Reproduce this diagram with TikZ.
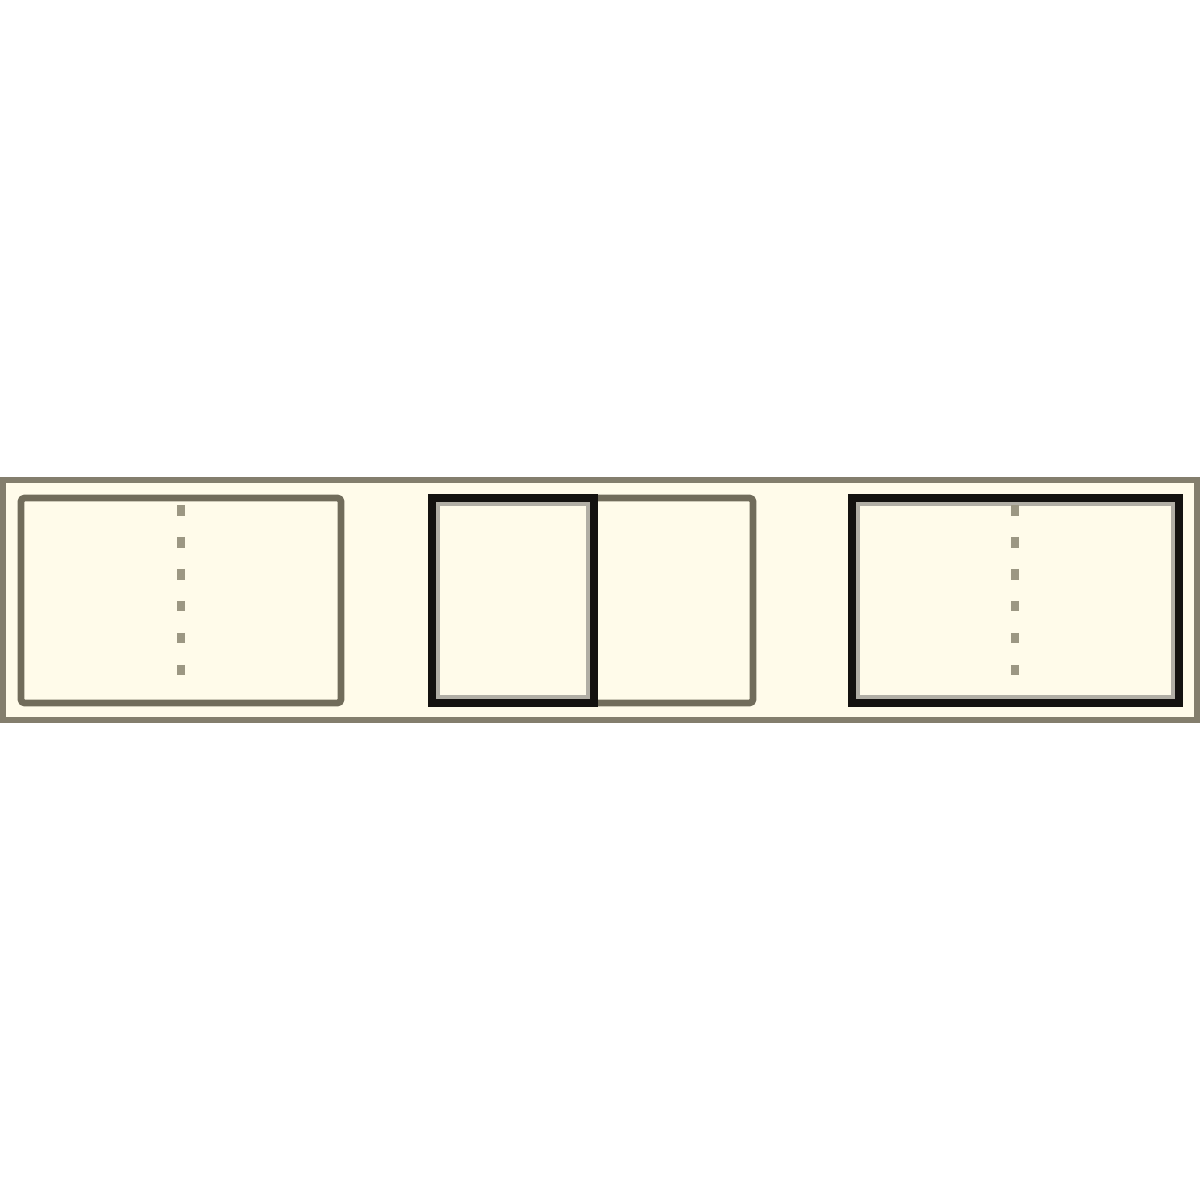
\documentclass[tikz,border=0pt]{standalone}
\begin{document}
\begin{tikzpicture}[x=0.02cm,y=-0.02cm,
  strip/.style={fill=cream,draw=stripgray,line width=3.4pt},
  softbox/.style={draw=boxgray,line width=3.8pt,rounded corners=2pt},
  hardbox/.style={draw=boxblack,line width=4.6pt},
  shade/.style={draw=boxgray!55,line width=2.2pt},
  fold/.style={draw=dotgray,line width=4pt,dash pattern=on 6pt off 12.2pt}]
\definecolor{cream}{HTML}{FFFBEA}
\definecolor{stripgray}{HTML}{837E6D}
\definecolor{boxgray}{HTML}{716C5B}
\definecolor{boxblack}{HTML}{141210}
\definecolor{dotgray}{HTML}{9C9783}
\useasboundingbox (0,0) rectangle (1200,1200);
\fill[white] (0,0) rectangle (1200,1200);
% outer strip
\path[strip] (3,480) rectangle (1197,720);
% box 1 (gray, with fold)
\path[softbox] (21,498) rectangle (341,703);
\path[fold] (181,505) -- (181,680);
% box 3 (gray)
\path[softbox] (594,498) rectangle (753,703);
% box 2 (black)
\path[shade] (438,504) rectangle (588,697);
\path[hardbox] (432,498) rectangle (594,703);
% box 4 (black, with fold)
\path[shade] (858,504) rectangle (1173,697);
\path[hardbox] (852,498) rectangle (1179,703);
\path[fold] (1015,505) -- (1015,680);
\end{tikzpicture}
\end{document}
